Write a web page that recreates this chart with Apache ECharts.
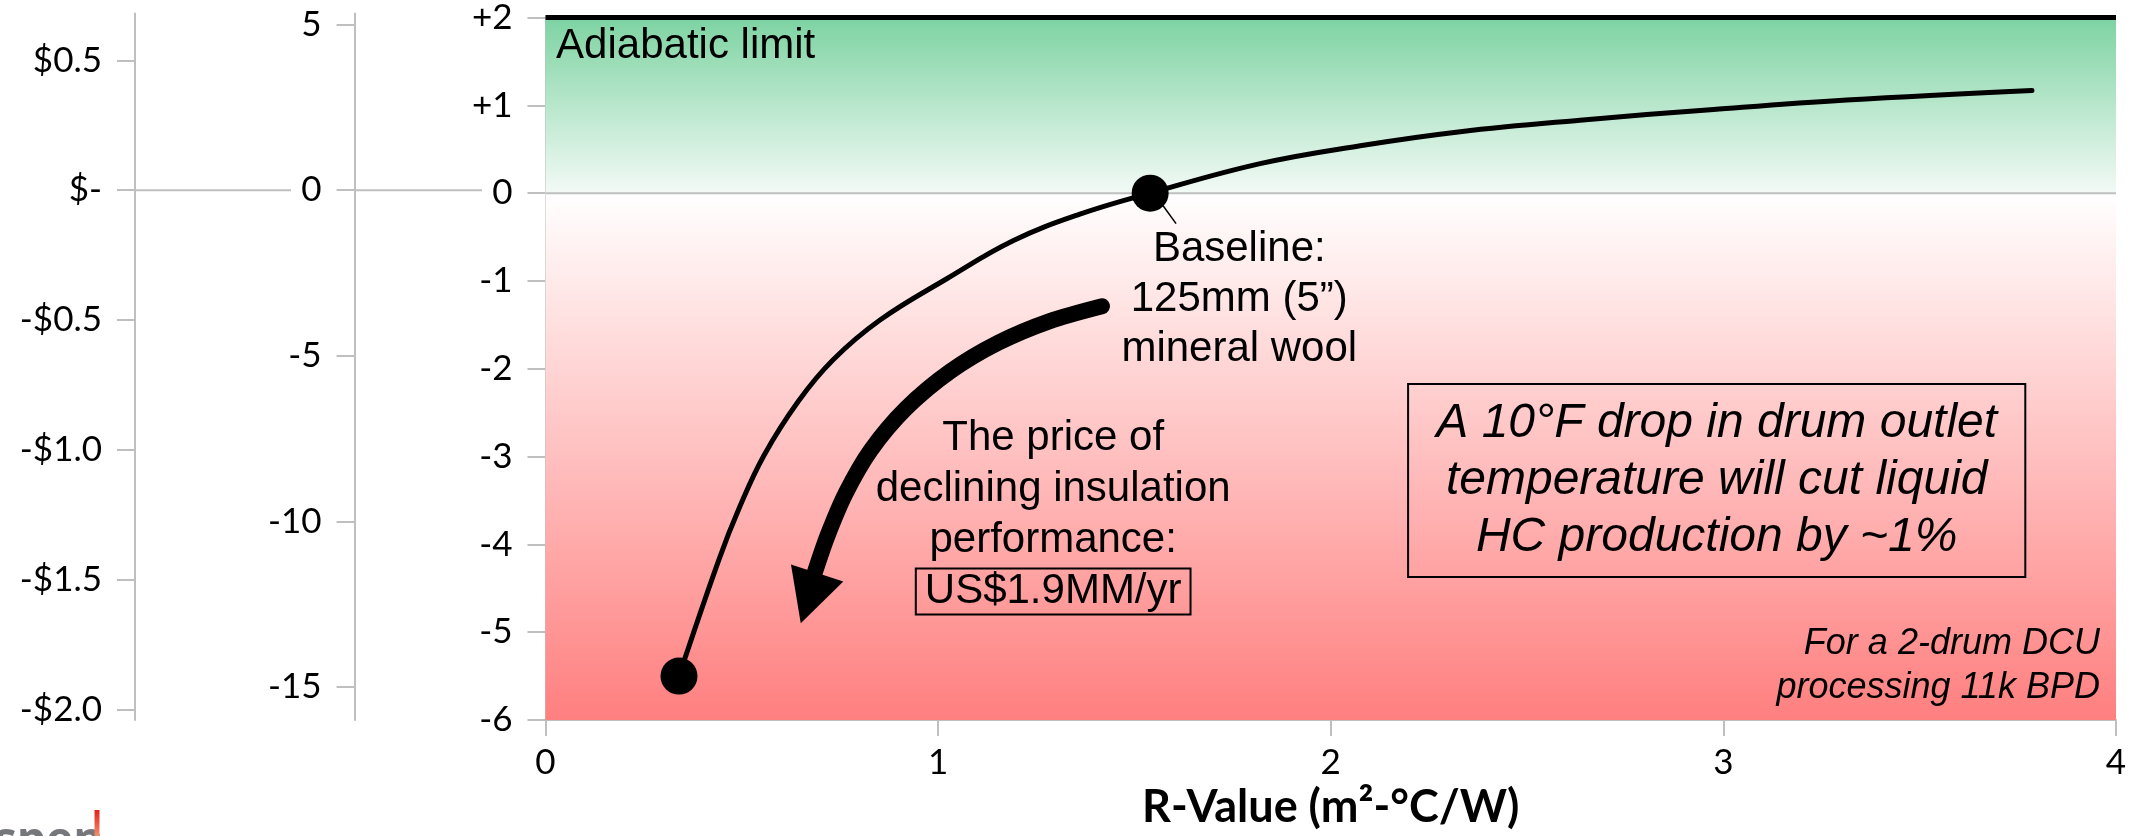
<!DOCTYPE html>
<html>
<head>
<meta charset="utf-8">
<title>R-Value vs drum outlet temperature</title>
<script src="https://cdn.jsdelivr.net/npm/echarts@6/dist/echarts.min.js"></script>
<style>
  html, body { margin: 0; padding: 0; background: #ffffff; }
  #chart { width: 2139px; height: 836px; }
</style>
</head>
<body>
<div id="chart"></div>
<script>
// ---- data -------------------------------------------------------------
// Insulation R-value (m²·°C/W) against change in drum outlet temperature
const rValueCurve = [
  [0.34, -5.5], [0.442, -4.17], [0.495, -3.57], [0.556, -2.99], [0.644, -2.37],
  [0.732, -1.9], [0.852, -1.445], [1.022, -0.975], [1.192, -0.54], [1.361, -0.24],
  [1.54, 0], [1.82, 0.336], [2.075, 0.54], [2.33, 0.70], [2.635, 0.831],
  [2.975, 0.953], [3.314, 1.061], [3.786, 1.17]
];
const baselinePoint = [1.54, 0];      // 125 mm mineral wool
const degradedPoint = [0.34, -5.5];   // worn insulation
const adiabaticLimit = 2;

// axis ranges and tick values
const xTicks = { min: 0, max: 4, step: 1 };
const mainTicks = { min: -6, max: 2, step: 1 };
const tempPerUnit = 8 / 3;            // middle axis = main value × 8/3
const tempTickValues = [-15, -10, -5, 0, 5];
const dollarPerUnit = 0.34;           // US$MM/yr per unit of the main axis
const dollarTickValues = [-2, -1.5, -1, -0.5, 0, 0.5];

// ---- chart ------------------------------------------------------------
const GRID_TOP = 13.5, GRID_BOTTOM = 116;
const AXIS_GREY = '#bfbfbf';
const TICK_FONT = 'Lato';
const NOTE_FONT = '"Liberation Sans", Arial, sans-serif';

const axisLineStyle = { show: true, onZero: false, lineStyle: { color: AXIS_GREY, width: 2 } };
const yTickStyle = { show: true, length: 18, lineStyle: { color: AXIS_GREY, width: 2 } };
const yLabelStyle = { fontSize: 35, color: '#000', margin: 33, fontFamily: TICK_FONT };

// arrow shaft for the "price of declining insulation" callout (data space)
const priceArrowPath = [
  [1.4175, -1.288], [1.2827, -1.46], [1.1536, -1.703], [1.0313, -2.029],
  [0.9182, -2.452], [0.8281, -2.929], [0.7644, -3.419], [0.7185, -3.899], [0.6854, -4.327]
];
const priceArrowHead = [0.671, -4.612];

const chart = echarts.init(document.getElementById('chart'), null, { renderer: 'canvas' });

const option = {
  animation: false,
  backgroundColor: '#ffffff',
  textStyle: { fontFamily: TICK_FONT },
  grid: [
    { left: 545.5, right: 23, top: GRID_TOP, bottom: GRID_BOTTOM },
    { left: 354.6, width: 127.4, top: GRID_TOP, bottom: GRID_BOTTOM },
    { left: 135, width: 156, top: GRID_TOP, bottom: GRID_BOTTOM }
  ],
  xAxis: [
    {
      type: 'value', gridIndex: 0,
      min: xTicks.min, max: xTicks.max, interval: xTicks.step,
      axisLine: axisLineStyle,
      axisTick: { show: true, length: 16, lineStyle: { color: AXIS_GREY, width: 2 } },
      axisLabel: { fontSize: 35, color: '#000', margin: 25, fontFamily: TICK_FONT },
      splitLine: { show: false },
      name: 'R-Value (m²-°C/W)',
      nameLocation: 'middle',
      nameGap: 63,
      nameTextStyle: { fontSize: 45, fontWeight: 'bold', color: '#000', fontFamily: TICK_FONT }
    },
    { type: 'value', gridIndex: 1, min: 0, max: 1, show: false },
    { type: 'value', gridIndex: 2, min: 0, max: 1, show: false }
  ],
  yAxis: [
    {
      type: 'value', gridIndex: 0,
      min: mainTicks.min, max: mainTicks.max, interval: mainTicks.step,
      axisLine: axisLineStyle,
      axisTick: yTickStyle,
      axisLabel: Object.assign({}, yLabelStyle, {
        formatter: v => (v > 0 ? '+' + v : String(v))
      }),
      splitLine: { show: false }
    },
    {
      type: 'value', gridIndex: 1,
      min: mainTicks.min * tempPerUnit, max: mainTicks.max * tempPerUnit,
      axisLine: axisLineStyle,
      axisTick: Object.assign({}, yTickStyle, { customValues: tempTickValues }),
      axisLabel: Object.assign({}, yLabelStyle, { customValues: tempTickValues }),
      splitLine: { show: false }
    },
    {
      type: 'value', gridIndex: 2,
      min: mainTicks.min * dollarPerUnit, max: mainTicks.max * dollarPerUnit,
      axisLine: axisLineStyle,
      axisTick: Object.assign({}, yTickStyle, { customValues: dollarTickValues }),
      axisLabel: Object.assign({}, yLabelStyle, {
        customValues: dollarTickValues,
        formatter: v => {
          if (Math.abs(v) < 1e-9) return '$-';
          return (v < 0 ? '-' : '') + '$' + Math.abs(v).toFixed(1);
        }
      }),
      splitLine: { show: false }
    }
  ],
  series: [
    // zero reference line on the two secondary scales
    {
      type: 'line', xAxisIndex: 1, yAxisIndex: 1, silent: true,
      data: [[0, 0], [1, 0]], symbol: 'none',
      lineStyle: { color: AXIS_GREY, width: 2 }
    },
    {
      type: 'line', xAxisIndex: 2, yAxisIndex: 2, silent: true,
      data: [[0, 0], [1, 0]], symbol: 'none',
      lineStyle: { color: AXIS_GREY, width: 2 }
    },
    // gain / loss zones with the zero line across the plot
    {
      type: 'line', xAxisIndex: 0, yAxisIndex: 0, silent: true, z: 1,
      data: [[xTicks.min, 0], [xTicks.max, 0]], symbol: 'none',
      lineStyle: { color: AXIS_GREY, width: 2 },
      markArea: {
        silent: true,
        data: [
          [
            { yAxis: 0, xAxis: xTicks.min, itemStyle: { color: {
              type: 'linear', x: 0, y: 0, x2: 0, y2: 1,
              colorStops: [{ offset: 0, color: '#7dd3a2' }, { offset: 1, color: '#f3faf6' }]
            } } },
            { yAxis: adiabaticLimit, xAxis: xTicks.max }
          ],
          [
            { yAxis: mainTicks.min, xAxis: xTicks.min, itemStyle: { color: {
              type: 'linear', x: 0, y: 0, x2: 0, y2: 1,
              colorStops: [{ offset: 0, color: '#ffffff' }, { offset: 1, color: '#ff7f7f' }]
            } } },
            { yAxis: 0, xAxis: xTicks.max }
          ]
        ]
      }
    },
    // adiabatic limit
    {
      type: 'line', silent: true, clip: false, z: 3,
      data: [[xTicks.min, adiabaticLimit], [xTicks.max, adiabaticLimit]], symbol: 'none',
      lineStyle: { color: '#000', width: 5 }
    },
    // R-value curve
    {
      type: 'line', name: 'R-Value', z: 4,
      data: rValueCurve, smooth: 0.4, symbol: 'none',
      lineStyle: { color: '#000', width: 5, cap: 'round' }
    },
    {
      type: 'scatter', z: 5,
      data: [baselinePoint, degradedPoint],
      symbol: 'circle', symbolSize: 37,
      itemStyle: { color: '#000', opacity: 1 }
    },
    // callout arrow
    {
      type: 'line', silent: true, z: 4,
      data: priceArrowPath, smooth: 0.3, symbol: 'none',
      lineStyle: { color: '#000', width: 16, cap: 'round' }
    },
    {
      type: 'scatter', silent: true, z: 4,
      data: [priceArrowHead],
      symbol: 'triangle', symbolSize: [55, 53], symbolRotate: 162,
      itemStyle: { color: '#000', opacity: 1 }
    }
  ]
};

chart.setOption(option);

// ---- annotations, anchored in data space ------------------------------
const px = pt => chart.convertToPixel({ gridIndex: 0 }, pt);

const adiabaticAt = px([0.027, 1.665]);
const baselineTextAt = px([1.767, -1.212]);
const leaderFrom = px([1.573, -0.144]);
const leaderTo = px([1.606, -0.348]);
const priceTextAt = px([1.293, -3.666]);
const noteBoxA = px([2.197, -2.174]);
const noteBoxB = px([3.769, -4.371]);
const noteTextAt = px([2.983, -3.27]);
const footAt = px([3.959, -5.387]);

chart.setOption({
  graphic: [
    {
      type: 'text', z: 100, x: adiabaticAt[0], y: adiabaticAt[1],
      style: { text: 'Adiabatic limit', font: '42px ' + NOTE_FONT, fill: '#000',
               align: 'left', verticalAlign: 'middle' }
    },
    {
      type: 'line', z: 100,
      shape: { x1: leaderFrom[0], y1: leaderFrom[1], x2: leaderTo[0], y2: leaderTo[1] },
      style: { stroke: '#000', lineWidth: 1.5 }
    },
    {
      type: 'text', z: 100, x: baselineTextAt[0], y: baselineTextAt[1],
      style: { text: 'Baseline:\n125mm (5”)\nmineral wool', font: '42px ' + NOTE_FONT,
               fill: '#000', align: 'center', verticalAlign: 'middle', lineHeight: 50 }
    },
    {
      type: 'text', z: 100, x: priceTextAt[0], y: priceTextAt[1],
      style: {
        text: 'The price of\ndeclining insulation\nperformance:\n{box|US$1.9MM/yr}',
        font: '42px ' + NOTE_FONT, fill: '#000', align: 'center', verticalAlign: 'middle',
        lineHeight: 51,
        rich: {
          box: { font: '42px ' + NOTE_FONT, fill: '#000', lineHeight: 51,
                 borderColor: '#000', borderWidth: 2, padding: [2, 9, 2, 9] }
        }
      }
    },
    {
      type: 'rect', z: 100,
      shape: { x: noteBoxA[0], y: noteBoxA[1], width: noteBoxB[0] - noteBoxA[0], height: noteBoxB[1] - noteBoxA[1] },
      style: { fill: 'none', stroke: '#000', lineWidth: 2 }
    },
    {
      type: 'text', z: 100, x: noteTextAt[0], y: noteTextAt[1],
      style: {
        text: 'A 10°F drop in drum outlet\ntemperature will cut liquid\nHC production by ~1%',
        font: 'italic 48px ' + NOTE_FONT, fill: '#000', align: 'center', verticalAlign: 'middle',
        lineHeight: 57
      }
    },
    {
      type: 'text', z: 100, x: footAt[0], y: footAt[1],
      style: {
        text: 'For a 2-drum DCU\nprocessing 11k BPD',
        font: 'italic 36px ' + NOTE_FONT, fill: '#000', align: 'right', verticalAlign: 'middle',
        lineHeight: 44
      }
    },
    // company mark, cropped at the page edge
    {
      type: 'text', z: 100, x: -6, y: 842,
      style: { text: 'spen', font: 'bold 46px "Open Sans", sans-serif', fill: '#76777a',
               align: 'left', verticalAlign: 'middle' }
    },
    {
      type: 'rect', z: 100,
      shape: { x: 94.5, y: 810, width: 5, height: 30 },
      style: { fill: { type: 'linear', x: 0, y: 0, x2: 0, y2: 1,
               colorStops: [{ offset: 0, color: '#e3211b' }, { offset: 1, color: '#f5a07a' }] } }
    }
  ]
});
</script>
</body>
</html>
